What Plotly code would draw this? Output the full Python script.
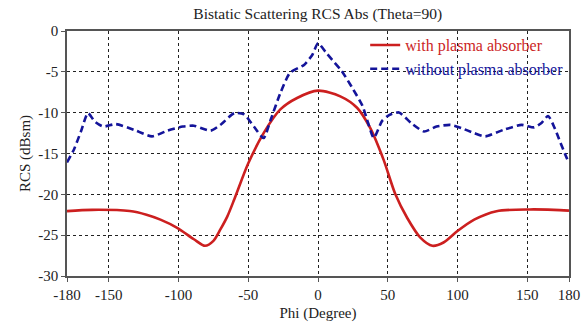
import plotly.graph_objects as go

# Blue dashed: without plasma absorber
blue_phi = [-180, -175, -170, -165, -160, -154, -145, -132, -119, -108, -97, -89, -77, -70,
            -60, -53, -46, -39, -34, -27, -20, -10, -4, 0, 6, 12, 17, 24, 32, 36, 40, 46, 51,
            58, 67, 76, 85, 95, 103, 112, 120, 133, 146, 155, 160, 165, 170, 173, 177, 180]
blue_rcs = [-16.1, -14.5, -12.3, -10.05, -11.1, -11.7, -11.4, -12.1, -12.9, -12.2, -11.7, -11.6, -12.2, -11.5,
            -10.05, -10.2, -11.7, -13.1, -10.9, -7.6, -5.1, -4.15, -2.9, -1.5, -2.7, -3.9, -4.9, -6.8, -9.2, -11.3, -13.1, -11.0, -10.3,
            -9.97, -11.3, -12.3, -11.7, -11.5, -11.9, -12.5, -12.9, -12.1, -11.5, -11.8, -11.3, -10.4, -12.0, -13.3, -15.0, -16.2]

# Red solid: with plasma absorber
red_phi = [-180, -162, -135, -123, -113, -101, -89, -81, -75, -70, -65, -60, -50, -39, -27, -15,
           0, 16, 28, 37.5, 47, 55.5, 64, 73.4, 82, 90, 100, 112, 128, 152, 169, 180]
red_rcs = [-22.05, -21.9, -22.05, -22.5, -23.1, -24.1, -25.5, -26.3, -25.7, -24.3, -22.7, -20.6, -16.2, -12.5, -9.6, -8.2,
           -7.3, -8.0, -9.4, -11.9, -15.75, -20.0, -22.9, -25.3, -26.3, -25.9, -24.5, -23.1, -22.06, -21.85, -21.9, -22.0]

x_ticks = [-180, -150, -100, -50, 0, 50, 100, 150, 180]
y_ticks = [0, -5, -10, -15, -20, -25, -30]

RED = "#cc1f1f"
BLUE = "#14149a"
FONT = "Liberation Serif"

fig = go.Figure()
fig.add_trace(go.Scatter(x=red_phi, y=red_rcs, mode="lines",
                         name=f"<span style='color:{RED}'>with plasma absorber</span>",
                         line=dict(color=RED, width=2.6, shape="spline", smoothing=0.8)))
fig.add_trace(go.Scatter(x=blue_phi, y=blue_rcs, mode="lines",
                         name=f"<span style='color:{BLUE}'>without plasma absorber</span>",
                         line=dict(color=BLUE, width=2.6, dash="7px,4px", shape="spline", smoothing=0.6)))

axis_common = dict(showgrid=True, gridcolor="#222", griddash="dot", gridwidth=1,
                   showline=True, linecolor="#555", linewidth=1.5, mirror=True,
                   ticks="outside", ticklen=4, tickcolor="#555", zeroline=False, automargin=False,
                   tickfont=dict(family=FONT, size=15, color="#222"))

fig.update_xaxes(range=[-180, 180], tickvals=x_ticks, ticktext=[str(v) for v in x_ticks],
                 title=dict(text="Phi (Degree)", font=dict(family=FONT, size=15, color="#222"), standoff=6),
                 **axis_common)
fig.update_yaxes(range=[-30, 0], tickvals=y_ticks, ticktext=[str(v) for v in y_ticks],
                 title=dict(text="RCS (dBsm)", font=dict(family=FONT, size=15, color="#222"), standoff=4),
                 **axis_common)

fig.update_layout(
    width=581, height=326,
    margin=dict(l=67, r=12, t=31, b=50),
    paper_bgcolor="white", plot_bgcolor="white",
    title=dict(text="Bistatic Scattering RCS Abs (Theta=90)", x=0.547, xanchor="center",
               y=0.957, yanchor="middle", font=dict(family=FONT, size=15.5, color="#222")),
    legend=dict(x=0.594, y=1.012, xanchor="left", yanchor="top", bgcolor="rgba(255,255,255,0)",
                font=dict(family=FONT, size=16), tracegroupgap=0, itemwidth=30),
    showlegend=True,
)

fig.write_html("out.html")
